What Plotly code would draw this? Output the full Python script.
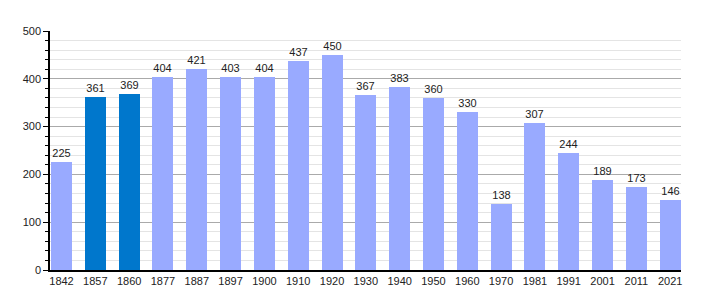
import plotly.graph_objects as go

years = ["1842", "1857", "1860", "1877", "1887", "1897", "1900", "1910", "1920", "1930",
         "1940", "1950", "1960", "1970", "1981", "1991", "2001", "2011", "2021"]
population = [225, 361, 369, 404, 421, 403, 404, 437, 450, 367,
              383, 360, 330, 138, 307, 244, 189, 173, 146]
highlight = ["1857", "1860"]

light = "#99AAFF"
dark = "#0077CC"
colors = [dark if y in highlight else light for y in years]
xpos = list(range(len(years)))

fig = go.Figure()
fig.add_trace(go.Bar(
    x=xpos, y=population, width=0.62,
    marker=dict(color=colors, line=dict(width=0)),
    text=[str(v) for v in population], textposition="outside",
    textfont=dict(family="Liberation Sans, Arial, sans-serif", size=11, color="#222222"),
    cliponaxis=False,
))

fig.update_layout(
    width=710, height=300,
    margin=dict(l=50, r=29, t=31, b=30),
    paper_bgcolor="white", plot_bgcolor="white",
    showlegend=False,
    font=dict(family="Liberation Sans, Arial, sans-serif", size=11, color="#222222"),
    bargap=0,
)
fig.update_xaxes(
    range=[-0.34, 18.32], tickmode="array", tickvals=xpos, ticktext=years,
    showgrid=False, showline=True, linecolor="black", linewidth=1.5,
    ticks="", zeroline=False, tickfont=dict(size=11),
)
fig.update_yaxes(
    range=[0, 500], dtick=100, tick0=0,
    showgrid=True, gridcolor="#AAAAAA", gridwidth=1,
    showline=True, linecolor="black", linewidth=1.5,
    ticks="outside", ticklen=5, tickcolor="black", tickwidth=1,
    zeroline=False, tickfont=dict(size=11),
    minor=dict(dtick=20, showgrid=True, gridcolor="#E4E4E4", gridwidth=1,
               ticks="outside", ticklen=3, tickcolor="black"),
)

fig.write_html("out.html")
